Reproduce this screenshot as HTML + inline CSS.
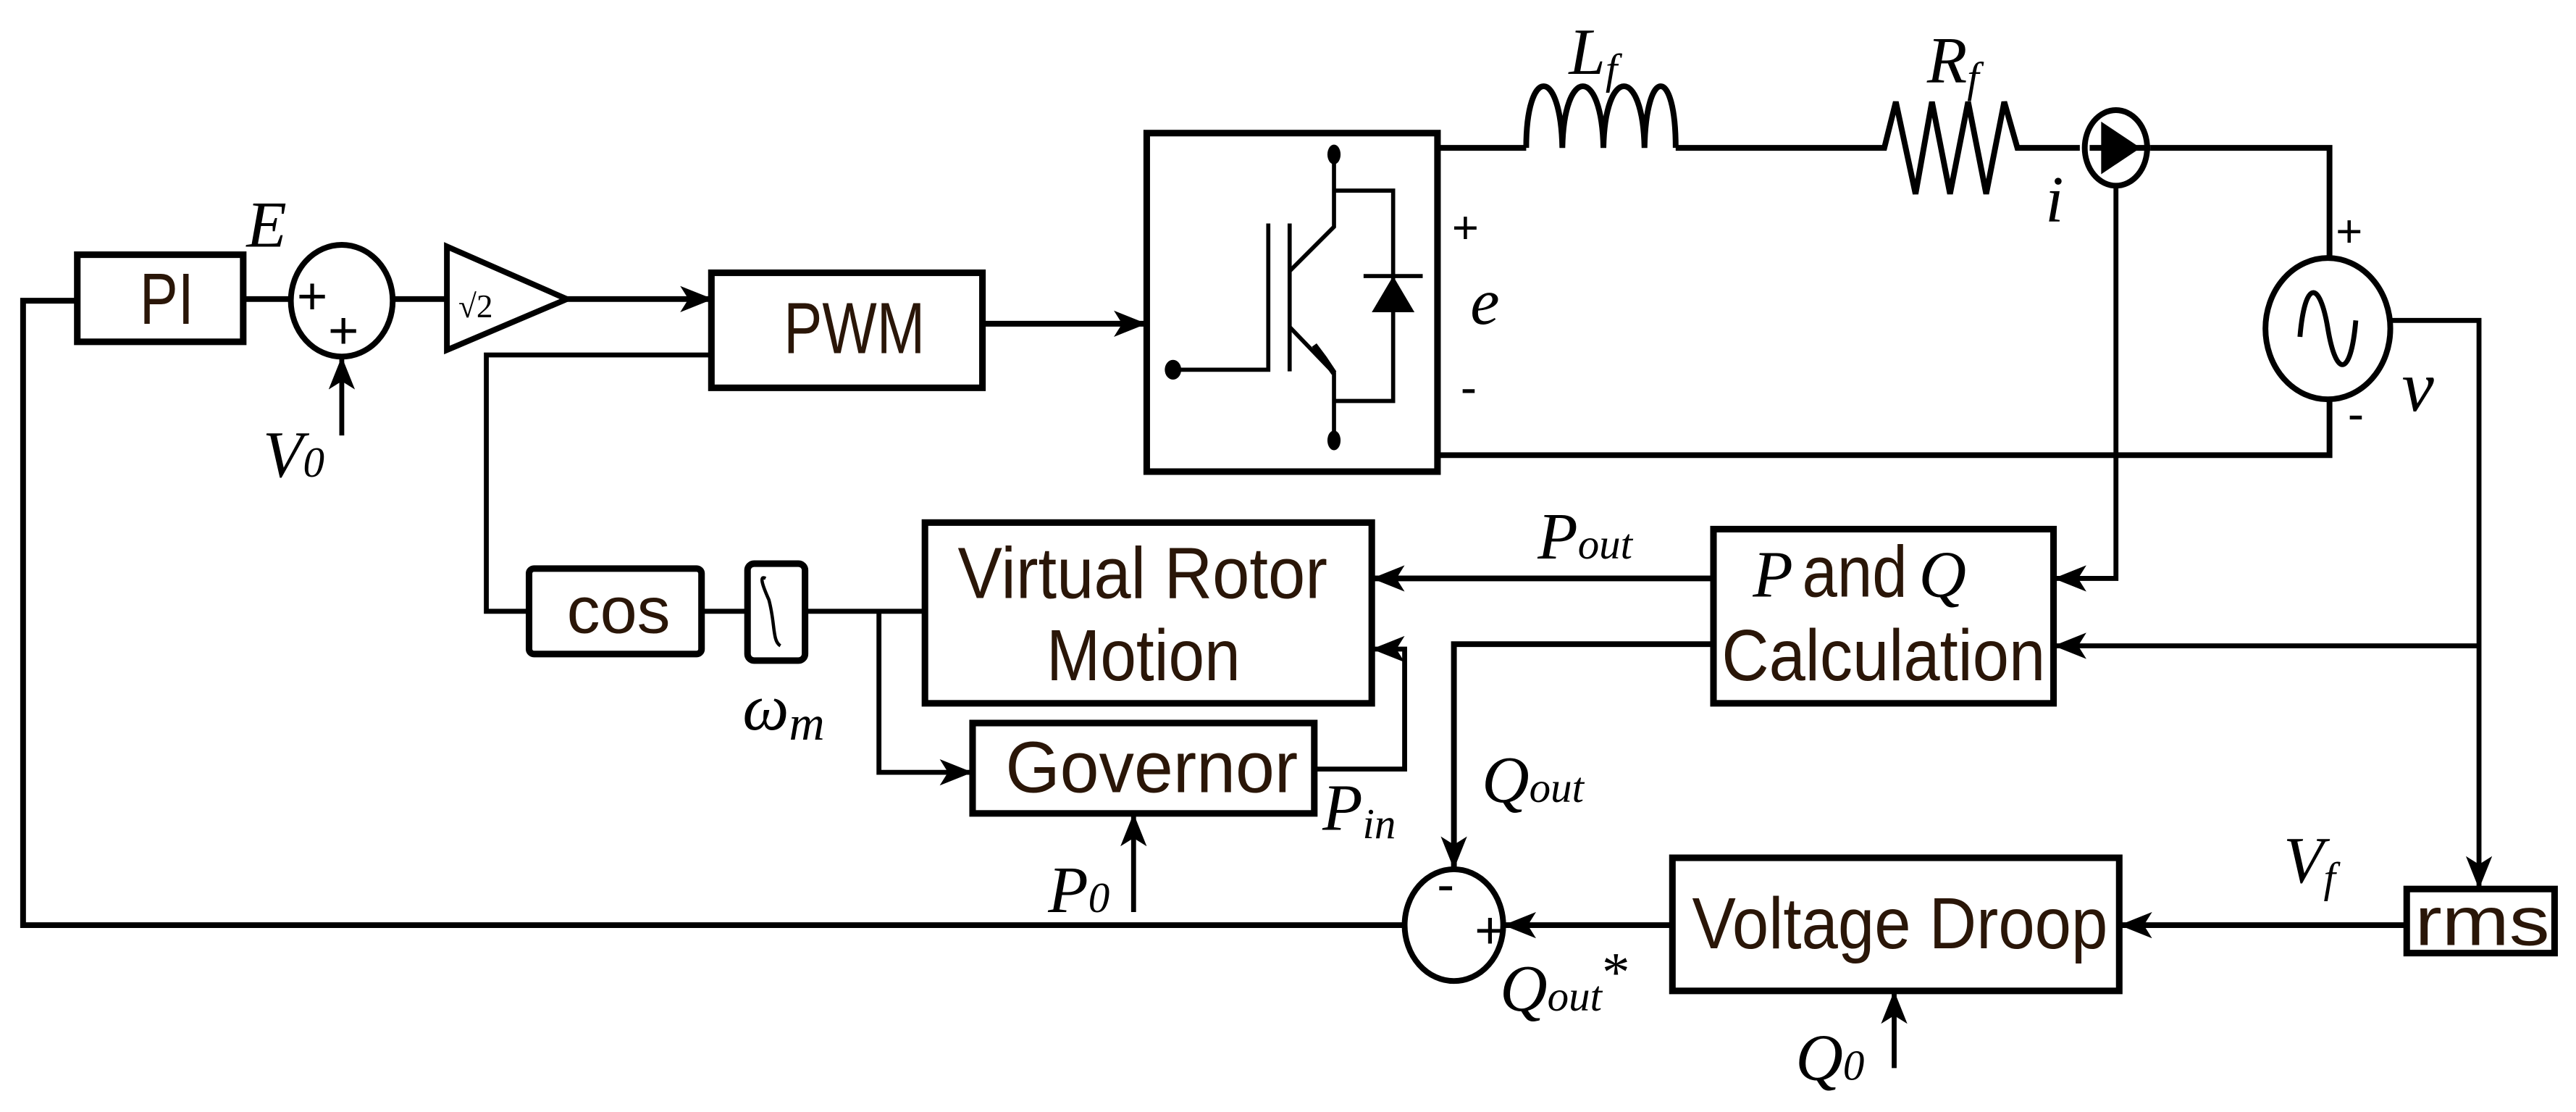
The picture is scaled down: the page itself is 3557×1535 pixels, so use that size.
<!DOCTYPE html>
<html><head><style>html,body{margin:0;padding:0;background:#fff;}svg{display:block}</style></head><body>
<svg width="3557" height="1535" viewBox="0 0 1568 676.7" xmlns="http://www.w3.org/2000/svg">
<defs>
<marker id="a" viewBox="0 0 20 16" refX="19" refY="8" markerWidth="20" markerHeight="16" markerUnits="userSpaceOnUse" orient="auto">
<path d="M0,0 L20,8 L0,16 L5,8 Z" fill="#000"/></marker>
</defs>
<g fill="none" stroke="#000" stroke-width="3.5">
<rect x="47" y="155" width="101" height="53" stroke-width="4"/>
<rect x="433" y="166" width="165" height="70" stroke-width="4"/>
<rect x="698" y="81" width="177" height="206" stroke-width="4"/>
<rect x="322" y="346" width="105" height="52" rx="3" stroke-width="4"/>
<rect x="455" y="343" width="35" height="59" rx="4" stroke-width="4"/>
<rect x="563" y="318" width="272" height="110" stroke-width="4"/>
<rect x="592" y="440" width="208" height="55" stroke-width="4"/>
<rect x="1043" y="322" width="207" height="106" stroke-width="4"/>
<rect x="1018" y="522" width="272" height="81" stroke-width="4"/>
<rect x="1465" y="541" width="90" height="39" stroke-width="4"/>
<ellipse cx="208" cy="183" rx="31" ry="34"/>
<ellipse cx="885" cy="563" rx="30" ry="34"/>
<path d="M272,150 L345,182 L272,213 Z"/>
<path d="M47,183 H14 V563 H855"/>
<path d="M148,182 H177"/>
<path d="M239,182 H272"/>
<path d="M345,182 H433" marker-end="url(#a)"/>
<path d="M208,265 V218" stroke-width="3" marker-end="url(#a)"/>
<path d="M598,197 H697" marker-end="url(#a)"/>
<path d="M433,216 H296 V372 H322" stroke-width="3"/>
<path d="M427,372 H455" stroke-width="3"/>
<path d="M490,372 H563" stroke-width="3"/>
<path d="M535,372 V470 H591" stroke-width="3" marker-end="url(#a)"/>
<path d="M800,468 H855 V395 H836" stroke-width="3" marker-end="url(#a)"/>
<path d="M690,555 V496" stroke-width="3" marker-end="url(#a)"/>
<path d="M1043,352 H836" marker-end="url(#a)"/>
<path d="M1043,392 H885 V528" marker-end="url(#a)"/>
<path d="M1018,563 H916" marker-end="url(#a)"/>
<path d="M1153,650 V604" stroke-width="3" marker-end="url(#a)"/>
<path d="M1465,563 H1291" marker-end="url(#a)"/>
<path d="M875,90 H929"/>
<path d="M929,90 C929,40 950,40 951,90 C952,40 975,40 976,90 C977,40 1000,40 1001,90 C1002,40 1020,40 1020,90"/>
<path d="M1020,90 H1147 L1154,62 L1166,118 L1176,62 L1187,118 L1198,62 L1209,118 L1220,62 L1228,90 H1266"/>
<ellipse cx="1288" cy="90" rx="19" ry="23"/>
<path d="M1272,90 H1309"/>
<path d="M1279,74 L1303,90 L1279,106 Z" fill="#000" stroke="none"/>
<path d="M1309,90 H1418 V158"/>
<ellipse cx="1417" cy="200" rx="38" ry="43"/>
<path d="M1400,205 C1403,170 1412,170 1417,200 C1422,230 1431,230 1434,195" stroke-width="3"/>
<path d="M1418,243 V277 H875"/>
<path d="M1455,195 H1509 V540" stroke-width="3" marker-end="url(#a)"/>
<path d="M1509,393 H1251" stroke-width="3" marker-end="url(#a)"/>
<path d="M1288,113 V352 H1251" stroke-width="3" marker-end="url(#a)"/>
<g stroke-width="2.5">
<path d="M812,94 V138 L785,165"/>
<path d="M785,136 V226"/>
<path d="M772,136 V225 H714"/>
<path d="M785,199 L812,227 V268"/>
<path d="M812,116 H848 V244 H812"/>
<path d="M830,168 H866"/>
</g>
<path d="M848,168 L835,190 L861,190 Z" fill="#000" stroke="none"/>
<path d="M812,227 L800,210 L806,218 Z" fill="#000"/>
</g>
<g fill="#000">
<ellipse cx="812" cy="94" rx="4" ry="6"/><ellipse cx="812" cy="268" rx="4" ry="6"/><ellipse cx="714" cy="225" rx="5" ry="6"/>
</g>
<g font-family="Liberation Sans, sans-serif" fill="#2a1608">
<text x="85" y="197" font-size="44" textLength="33" lengthAdjust="spacingAndGlyphs">PI</text>
<text x="477" y="215" font-size="44" textLength="86" lengthAdjust="spacingAndGlyphs">PWM</text>
<text x="345" y="385" font-size="40" textLength="63" lengthAdjust="spacingAndGlyphs">cos</text>
<text x="583" y="364" font-size="44" textLength="225" lengthAdjust="spacingAndGlyphs">Virtual Rotor</text>
<text x="637" y="414" font-size="44" textLength="118" lengthAdjust="spacingAndGlyphs">Motion</text>
<text x="612" y="482" font-size="44" textLength="178" lengthAdjust="spacingAndGlyphs">Governor</text>
<text x="1048" y="414" font-size="44" textLength="197" lengthAdjust="spacingAndGlyphs">Calculation</text>
<text x="1030" y="577" font-size="44" textLength="253" lengthAdjust="spacingAndGlyphs">Voltage Droop</text>
<text x="1470" y="575" font-size="42" textLength="82" lengthAdjust="spacingAndGlyphs">rms</text>
<text x="1097" y="363" font-size="44" textLength="64" lengthAdjust="spacingAndGlyphs">and</text>
</g>
<g font-family="Liberation Sans, sans-serif" fill="#000" text-anchor="middle" font-size="32">
<text x="190" y="191">+</text><text x="209" y="212">+</text>
<text x="892" y="148" font-size="28">+</text><text x="894" y="246" font-size="30">-</text>
<text x="1430" y="150" font-size="28">+</text><text x="1434" y="262" font-size="30">-</text>
<text x="880" y="549" font-size="32">-</text><text x="907" y="577">+</text>
</g>
<g font-family="Liberation Serif, serif" font-style="italic" fill="#000">
<text x="150" y="150" font-size="40">E</text>
<text x="160" y="290" font-size="40">V<tspan font-size="26">0</tspan></text>
<text x="279" y="193" font-size="20" font-style="normal">√2</text>
<text x="955" y="45" font-size="40">L<tspan font-size="26" dy="6">f</tspan></text>
<text x="1173" y="50" font-size="40">R<tspan font-size="26" dy="6">f</tspan></text>
<text x="1245" y="135" font-size="40">i</text>
<text x="895" y="197" font-size="40">e</text>
<text x="1462" y="250" font-size="44">ν</text>
<text x="936" y="340" font-size="40">P<tspan font-size="26">out</tspan></text>
<text x="1067" y="363" font-size="40">P</text>
<text x="1168" y="363" font-size="40">Q</text>
<text x="452" y="444" font-size="40">ω<tspan font-size="30" dy="6">m</tspan></text>
<text x="805" y="505" font-size="40">P<tspan font-size="26" dy="5">in</tspan></text>
<text x="638" y="555" font-size="40">P<tspan font-size="26">0</tspan></text>
<text x="902" y="488" font-size="40">Q<tspan font-size="26">out</tspan></text>
<text x="913" y="615" font-size="40">Q<tspan font-size="26">out</tspan><tspan font-style="normal" font-size="34" dy="-12">*</tspan></text>
<text x="1093" y="657" font-size="40">Q<tspan font-size="26">0</tspan></text>
<text x="1390" y="537" font-size="40">V<tspan font-size="26" dy="6">f</tspan></text>
</g>
<path d="M466,352 C462,350 464,356 468,365 C472,380 470,390 475,393" fill="none" stroke="#000" stroke-width="2"/>
</svg>
</body></html>
